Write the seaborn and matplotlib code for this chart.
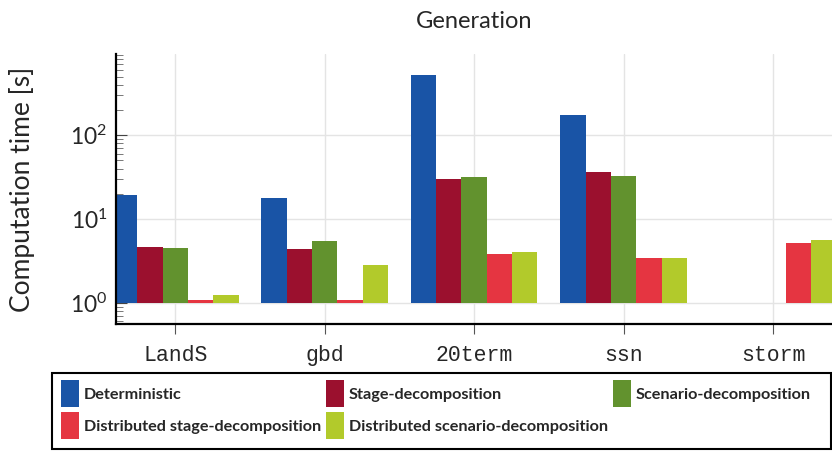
import numpy as np
import pandas as pd
import matplotlib
matplotlib.use("Agg")
import matplotlib.pyplot as plt
import seaborn as sns
from matplotlib.patches import Rectangle
from matplotlib.ticker import LogLocator, NullFormatter

categories = ["LandS", "gbd", "20term", "ssn", "storm"]
methods = [
    "Deterministic",
    "Stage-decomposition",
    "Scenario-decomposition",
    "Distributed stage-decomposition",
    "Distributed scenario-decomposition",
]
deterministic = [19.3, 17.8, 518, 173, np.nan]
stage_dec = [4.64, 4.4, 29.9, 36.3, np.nan]
scenario_dec = [4.5, 5.47, 31.6, 32.5, np.nan]
dist_stage_dec = [1.07, 1.07, 3.83, 3.43, 5.18]
dist_scenario_dec = [1.24, 2.83, 4.05, 3.43, 5.62]
colors = ["#1954A6", "#9B102E", "#62922E", "#E53541", "#B2CA2B"]

series = [deterministic, stage_dec, scenario_dec, dist_stage_dec, dist_scenario_dec]
rows = []
for m, vals in zip(methods, series):
    for c, v in zip(categories, vals):
        rows.append(dict(problem=c, method=m, time=v))
df = pd.DataFrame(rows)

sns.set_style("white")
plt.rcParams["font.family"] = ["Lato", "DejaVu Sans"]
plt.rcParams["mathtext.fontset"] = "cm"

fig = plt.figure(figsize=(8.32, 4.51), dpi=100)
ax = fig.add_axes([116 / 832, 1 - 324 / 451, 1 - 116 / 832, (324 - 54) / 451])

sns.barplot(
    data=df, x="problem", y="time", hue="method",
    order=categories, hue_order=methods, palette=colors, saturation=1,
    width=0.847, linewidth=0, ax=ax, errorbar=None,
)

# bars start at 10^0 like the original
ax.set_yscale("log")
for p in ax.patches:
    h = p.get_height()
    if np.isfinite(h):
        p.set_y(1)
        p.set_height(h - 1)

handles, labels = ax.get_legend_handles_labels()
ax.get_legend().remove()

ax.set_xlim(-0.397, 4.395)
ax.set_ylim(0.56, 930)

ax.yaxis.set_major_locator(LogLocator(base=10, numticks=10))
ax.yaxis.set_minor_locator(LogLocator(base=10, subs=np.arange(2, 10), numticks=20))
ax.yaxis.set_minor_formatter(NullFormatter())

ax.grid(True, which="major", color="#e4e4e4", linewidth=1.0)
ax.set_axisbelow(True)

for s in ["top", "right"]:
    ax.spines[s].set_visible(False)
for s in ["left", "bottom"]:
    ax.spines[s].set_color("black")
    ax.spines[s].set_linewidth(1.6)

ax.tick_params(axis="y", which="major", direction="in", length=8, width=0.8,
               color="#444444", labelsize=16.5, pad=6, left=True)
ax.tick_params(axis="y", which="minor", direction="in", length=5, width=0.7,
               color="#777777", left=True)
ax.tick_params(axis="x", which="major", direction="out", length=7, width=0.8,
               color="#555555", pad=8, bottom=True)
for lbl in ax.get_xticklabels():
    lbl.set_fontfamily("Liberation Mono")
    lbl.set_fontsize(15.5)

ax.set_xlabel("")
ax.set_ylabel("Computation time [s]", fontsize=19, labelpad=25)
ax.set_title("Generation", fontsize=17, pad=19)

# legend box drawn separately so it spans the full width like the original
fig.patches.append(Rectangle((52 / 832, 2 / 451), 779 / 832, 76 / 451,
                             transform=fig.transFigure, fill=False,
                             edgecolor="black", linewidth=1.5))

# matplotlib fills legend columns first; reorder so entries run along rows
order = [0, 3, 1, 4, 2]
leg = fig.legend(
    [handles[i] for i in order], [labels[i] for i in order],
    ncol=3, loc="upper left", bbox_to_anchor=(61 / 832, 1 - 380 / 451),
    frameon=False, borderaxespad=0, borderpad=0,
    handlelength=1.1, handleheight=2.2, handletextpad=0.3,
    labelspacing=0.3, columnspacing=0.3,
    prop=dict(family=["Lato", "DejaVu Sans"], weight="bold", size=11.7),
)

fig.savefig("out.png", dpi=100)
